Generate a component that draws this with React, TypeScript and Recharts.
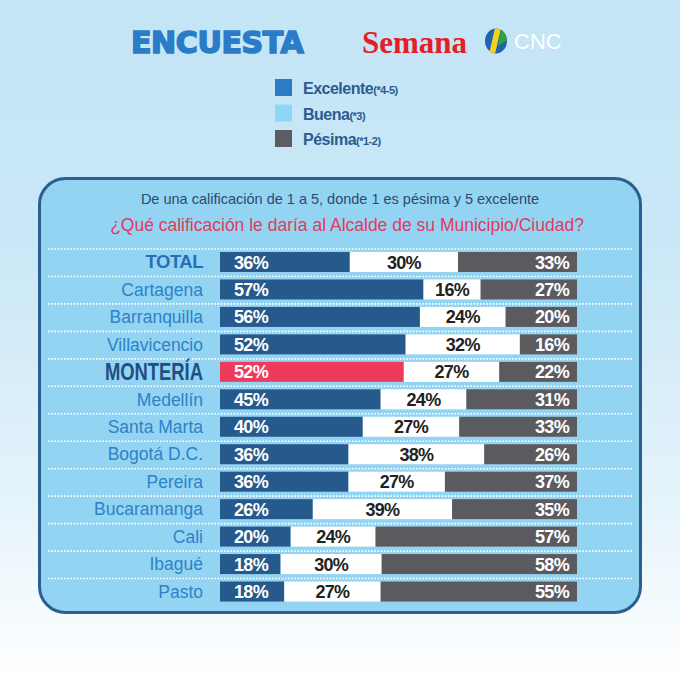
import { Bar, BarChart, CartesianGrid, Cell, XAxis, YAxis } from "recharts";

const cities = [
  "TOTAL",
  "Cartagena",
  "Barranquilla",
  "Villavicencio",
  "MONTERÍA",
  "Medellín",
  "Santa Marta",
  "Bogotá D.C.",
  "Pereira",
  "Bucaramanga",
  "Cali",
  "Ibagué",
  "Pasto",
];
const excelente = [36, 57, 56, 52, 52, 45, 40, 36, 36, 26, 20, 18, 18];
const buena = [30, 16, 24, 32, 27, 24, 27, 38, 27, 39, 24, 30, 27];
const pesima = [33, 27, 20, 16, 22, 31, 33, 26, 37, 35, 57, 58, 55];

const legendNames = ["Excelente", "Buena", "Pésima"];
const legendNotes = ["(*4-5)", "(*3)", "(*1-2)"];
const legendColors = ["#2b7cc4", "#8fd5f4", "#5d5d61"];

const rows = cities.map((city, i) => ({
  city,
  excelente: excelente[i],
  buena: buena[i],
  pesima: pesima[i],
}));

const sans = "'Liberation Sans', Arial, sans-serif";

const BLUE = "#265a8d";
const RED = "#ee3a5d";
const GREY = "#5b5b5f";

function CityTick({ x, y, payload }: any) {
  const name = payload.value as string;
  if (name === "MONTERÍA") {
    return (
      <text
        transform={`translate(${x},${y + 8}) scale(0.8,1)`}
        textAnchor="end"
        fill="#1f4e82"
        fontFamily={sans}
        fontWeight={700}
        fontSize={23}
      >
        {name}
      </text>
    );
  }
  const total = name === "TOTAL";
  return (
    <text
      x={x}
      y={y}
      dy={6.5}
      textAnchor="end"
      fill={total ? "#2a6fb6" : "#2e82c8"}
      fontFamily={sans}
      fontWeight={total ? 700 : 400}
      fontSize={total ? 18.5 : 17.5}
      letterSpacing={total ? -0.5 : 0}
    >
      {name}
    </text>
  );
}

// segment with its own percentage
function segment(kind: "excelente" | "buena" | "pesima") {
  return (p: any) => {
    const { x, y, width, height, fill, payload } = p;
    let tx = x + 14;
    let anchor = "start";
    let color = "#ffffff";
    if (kind === "buena") {
      tx = x + width / 2;
      anchor = "middle";
      color = "#222222";
    }
    if (kind === "pesima") {
      tx = x + width - 8;
      anchor = "end";
    }
    return (
      <g>
        <rect x={x} y={y} width={width} height={height} fill={fill} />
        <text
          x={tx}
          y={y + height / 2 + 6.5}
          textAnchor={anchor}
          fill={color}
          fontFamily={sans}
          fontWeight={700}
          fontSize={18}
          letterSpacing={-0.7}
        >
          {payload[kind]}%
        </text>
      </g>
    );
  };
}

export default function App() {
  return (
    <div
      style={{
        position: "absolute",
        left: 0,
        top: 0,
        width: 680,
        height: 680,
        overflow: "hidden",
        background: "linear-gradient(180deg, #c4e5f6 0%, #c9e7f7 35%, #e6f4fb 75%, #ffffff 100%)",
      }}
    >
      <svg width={680} height={680} style={{ position: "absolute", left: 0, top: 0 }}>
        <defs>
          <clipPath id="cnc-clip">
            <ellipse cx={496} cy={41} rx={11} ry={12.5} />
          </clipPath>
        </defs>
        <text
          x={131}
          y={53}
          fontFamily="'DejaVu Sans', sans-serif"
          fontWeight={700}
          fontSize={30}
          fill="#2b7bc6"
          stroke="#2b7bc6"
          strokeWidth={1.6}
          letterSpacing={-0.4}
        >
          ENCUESTA
        </text>
        <text x={362} y={53} fontFamily="'Liberation Serif', 'Times New Roman', serif" fontWeight={700} fontSize={31} fill="#e41e26">
          Semana
        </text>
        <g clipPath="url(#cnc-clip)">
          <rect x={484} y={28} width={24} height={26} fill="#1e63ad" />
          <polygon points="495,28 501,28 495,54 489,54" fill="#f2d21b" />
          <polygon points="501,28 508,28 508,40 498,46 501,28" fill="#2fa043" />
        </g>
        <text x={514} y={49} fontFamily={sans} fontSize={22} fill="#ffffff">
          CNC
        </text>

        {legendNames.map((name, i) => (
          <g key={name}>
            <rect x={275} y={79 + i * 25.5} width={17} height={17} fill={legendColors[i]} />
            <text x={303} y={94 + i * 25.5} fontFamily={sans} fontWeight={700} fontSize={16} fill="#2b5b90" letterSpacing={-0.5}>
              {name}
              <tspan fontSize={11}>{legendNotes[i]}</tspan>
            </text>
          </g>
        ))}

        <rect x={39.5} y={178.5} width={601} height={434} rx={26} fill="#93d4f3" stroke="#2b5e91" strokeWidth={3} />
        <text x={340} y={204} textAnchor="middle" fontFamily={sans} fontSize={14.5} fill="#2d4b6b">
          De una calificación de 1 a 5, donde 1 es pésima y 5 excelente
        </text>
        <text x={347} y={231} textAnchor="middle" fontFamily={sans} fontSize={17.5} fill="#e5395d">
          ¿Qué calificación le daría al Alcalde de su Municipio/Ciudad?
        </text>
      </svg>

      <div style={{ position: "absolute", left: 38, top: 248 }}>
        <BarChart
          width={604}
          height={357}
          data={rows}
          layout="vertical"
          stackOffset="expand"
          barSize={20}
          margin={{ top: 0, right: 65, bottom: 0, left: 0 }}
        >
          <CartesianGrid
            vertical={false}
            horizontalCoordinatesGenerator={({ offset }: any) =>
              rows.map((_, i) => offset.top + (i * offset.height) / rows.length + 1)
            }
            horizontal={(p: any) => (
              <line
                key={`dot-${p.index}`}
                x1={10}
                x2={594}
                y1={p.y1}
                y2={p.y2}
                stroke="#ffffff"
                strokeWidth={1.6}
                strokeDasharray="1.6 1.6"
              />
            )}
          />
          <XAxis type="number" hide />
          <YAxis
            type="category"
            dataKey="city"
            width={182}
            axisLine={false}
            tickLine={false}
            tickSize={0}
            tickMargin={17}
            interval={0}
            tick={<CityTick />}
          />
          <Bar dataKey="excelente" stackId="a" fill={BLUE} isAnimationActive={false} shape={segment("excelente")}>
            {rows.map((r) => (
              <Cell key={r.city} fill={r.city === "MONTERÍA" ? RED : BLUE} />
            ))}
          </Bar>
          <Bar dataKey="buena" stackId="a" fill="#ffffff" isAnimationActive={false} shape={segment("buena")} />
          <Bar dataKey="pesima" stackId="a" fill={GREY} isAnimationActive={false} shape={segment("pesima")} />
        </BarChart>
      </div>
    </div>
  );
}
